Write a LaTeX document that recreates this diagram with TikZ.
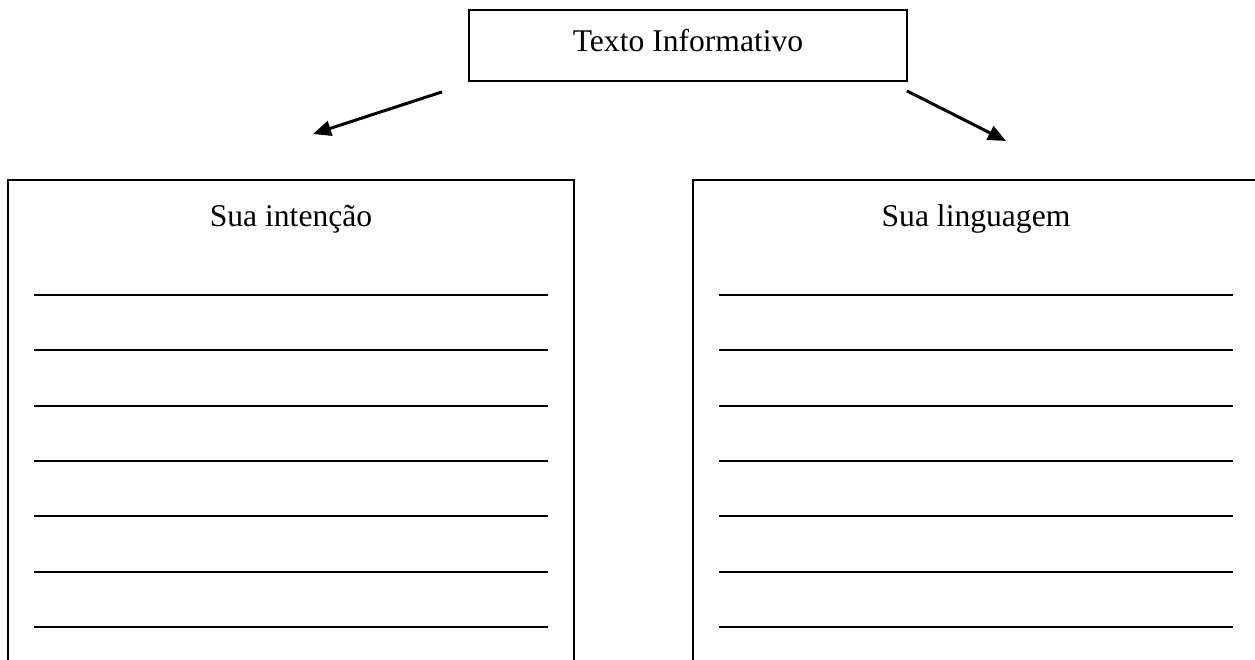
\documentclass[tikz,border=0pt]{standalone}
\usepackage{fontspec}
\setmainfont{Liberation Serif}
\usetikzlibrary{arrows.meta,positioning}

\begin{document}
\begin{tikzpicture}[x=1pt,y=1pt,>={Triangle[length=18pt,width=15pt]},
  main node/.style={rectangle,draw,line width=1.8pt,minimum width=438pt,minimum height=71pt,inner sep=0pt,
    font=\fontsize{31.6}{38}\selectfont,text height=22pt,text depth=9pt},
  box node/.style={rectangle,draw,line width=1.8pt,minimum width=566pt,minimum height=560pt,inner sep=0pt,anchor=north}]
  \tikzset{TitleStyle/.style = {font=\fontsize{31.6}{38}\selectfont,anchor=base,inner sep=0pt},
    RuleStyle/.style = {line width=2pt},
    ArrowStyle/.style = {->,line width=3pt}}
  \useasboundingbox (0,0) rectangle (1255,660);
  \clip (0,0) rectangle (1255,660);

  \node[main node] (info) at (688,614.5) {Texto Informativo};
  \node[box node] (intencao) at (291,481) {};
  \node[box node] (linguagem) at (976,481) {};
  \node[TitleStyle] (t1) at ([yshift=-48pt]intencao.north) {Sua intenção};
  \node[TitleStyle] (t2) at ([yshift=-48pt]linguagem.north) {Sua linguagem};

  % lines to write on
  \foreach \k in {0,...,6} {
    \draw[RuleStyle] ([shift={(27,{-116-55.33*\k})}]intencao.north west) -- ([shift={(-27,{-116-55.33*\k})}]intencao.north east);
    \draw[RuleStyle] ([shift={(27,{-116-55.33*\k})}]linguagem.north west) -- ([shift={(-27,{-116-55.33*\k})}]linguagem.north east);
  }

  \coordinate (a1) at ([shift={(-26,-10)}]info.south west);
  \coordinate (a2) at (313,526);
  \coordinate (b1) at ([shift={(-1,-9)}]info.south east);
  \coordinate (b2) at (1006,519);
  \draw[ArrowStyle] (a1) -- (a2);
  \draw[ArrowStyle] (b1) -- (b2);
\end{tikzpicture}
\end{document}
